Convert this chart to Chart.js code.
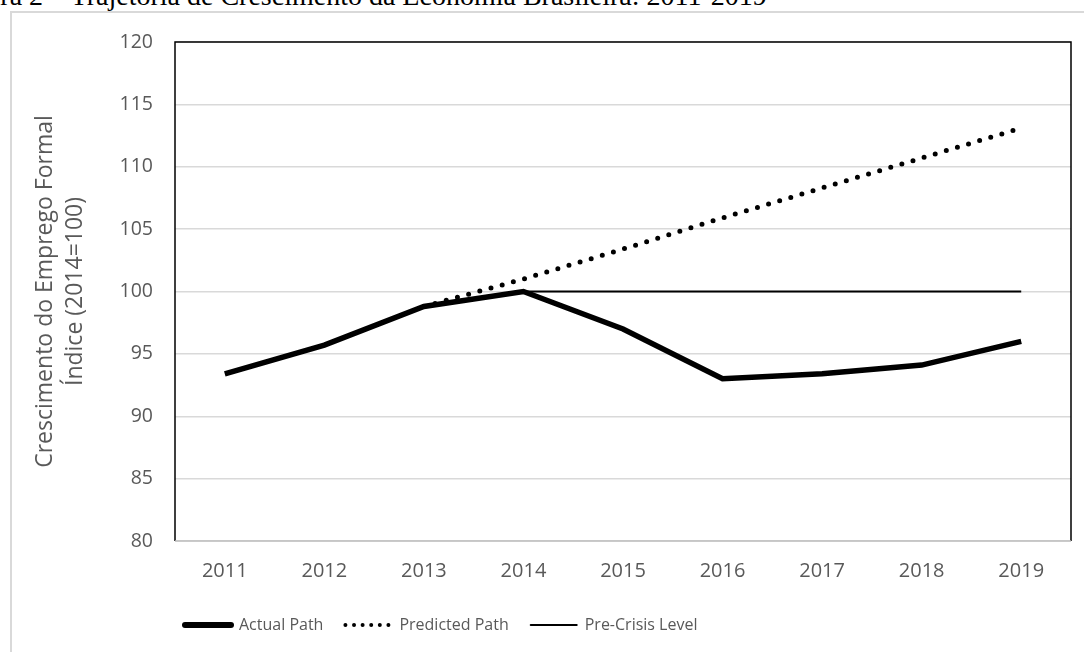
<!DOCTYPE html>
<html>
<head>
<meta charset="utf-8">
<script src="https://cdn.jsdelivr.net/npm/chart.js@4.4.1/dist/chart.umd.min.js"></script>
<style>
  html, body { margin: 0; padding: 0; background: #fff; overflow: hidden; }
  #wrap { position: relative; width: 1084px; height: 652px; }
  #caption {
    position: absolute; top: -18px; left: 0; white-space: nowrap;
    font-family: "Liberation Serif", "DejaVu Serif", serif; font-size: 28px; line-height: 28px; color: #000;
  }
  #frame {
    position: absolute; left: 10px; top: 11px; width: 1100px; height: 700px;
    border-left: 2px solid #d9d9d9; border-top: 2px solid #d9d9d9;
  }
  canvas { position: absolute; left: 0; top: 0; }
</style>
</head>
<body>
<div id="wrap">
  <div id="caption"><span id="cut">Figu</span>ra 2 – Trajetória de Crescimento da Economia Brasileira: 2011-2019</div>
  <div id="frame"></div>
  <canvas id="growthChart" width="1084" height="652"></canvas>
</div>
<script>
// years on the x axis
const years = ['2011', '2012', '2013', '2014', '2015', '2016', '2017', '2018', '2019'];

// formal employment index, 2014 = 100
const actualPath = [93.4, 95.7, 98.8, 100, 97.0, 93.0, 93.4, 94.1, 96.0];
const predictedPath = [null, null, 98.8, 101.0, 103.4, 105.9, 108.3, 110.7, 113.1];
const preCrisisLevel = [null, null, null, 100, 100, 100, 100, 100, 100];

const seriesNames = ['Actual Path', 'Predicted Path', 'Pre-Crisis Level'];
const yTitle = ['Crescimento do Emprego Formal', 'Índice (2014=100)'];

// shift the caption so the first letters sit off the left edge
const cut = document.getElementById('cut');
document.getElementById('caption').style.left = (-cut.offsetWidth) + 'px';

const legendStyle = [
  { width: 6, dash: [] },
  { width: 4, dash: [0, 8.6] },
  { width: 2, dash: [] },
];

const PLOT_BOTTOM = 541;
const LEGEND_Y = 625;
const LEGEND_X = 185;
const LEGEND_PAD = 22;
const LEGEND_FONT = 16;

// black box around the plot area (x axis line stays grey)
const plotFrame = {
  id: 'plotFrame',
  beforeDatasetsDraw(chart) {
    const { ctx, chartArea: a } = chart;
    ctx.save();
    ctx.strokeStyle = '#000';
    ctx.lineWidth = 1.5;
    ctx.beginPath();
    ctx.moveTo(a.left, a.bottom);
    ctx.lineTo(a.left, a.top);
    ctx.lineTo(a.right, a.top);
    ctx.lineTo(a.right, a.bottom);
    ctx.stroke();
    ctx.strokeStyle = '#bfbfbf';
    ctx.beginPath();
    ctx.moveTo(a.left, a.bottom);
    ctx.lineTo(a.right, a.bottom);
    ctx.stroke();
    ctx.restore();
  },
};

// legend sits left of centre, under the plot
const legendPlace = {
  id: 'legendPlace',
  afterLayout(chart) {
    const lg = chart.legend;
    const w = lg.right - lg.left;
    lg.left = LEGEND_X - LEGEND_PAD;
    lg.right = lg.left + w;
    const h = lg.bottom - lg.top;
    lg.top = LEGEND_Y - LEGEND_PAD - LEGEND_FONT / 2;
    lg.bottom = lg.top + h;
  },
};

const font = '"Open Sans", "Noto Sans", sans-serif';

new Chart(document.getElementById('growthChart'), {
  type: 'line',
  data: {
    labels: years,
    datasets: [
      {
        label: seriesNames[0],
        data: actualPath,
        borderColor: '#000',
        backgroundColor: '#000',
        borderWidth: 5.5,
        pointRadius: 0,
      },
      {
        label: seriesNames[1],
        data: predictedPath,
        borderColor: '#000',
        backgroundColor: '#000',
        borderWidth: 5,
        borderDash: [0, 11.6],
        borderCapStyle: 'round',
        pointRadius: 0,
      },
      {
        label: seriesNames[2],
        data: preCrisisLevel,
        borderColor: '#000',
        backgroundColor: '#000',
        borderWidth: 2.2,
        pointRadius: 0,
      },
    ],
  },
  options: {
    responsive: false,
    animation: false,
    layout: { padding: { top: 42, right: 13, left: 0, bottom: 0 } },
    plugins: {
      tooltip: { enabled: false },
      legend: {
        position: 'bottom',
        align: 'start',
        labels: {
          usePointStyle: true,
          pointStyleWidth: 46,
          padding: LEGEND_PAD,
          color: '#595959',
          font: { family: font, size: LEGEND_FONT },
          generateLabels: (chart) => chart.data.datasets.map((ds, i) => ({
            text: ds.label,
            datasetIndex: i,
            fillStyle: '#000',
            strokeStyle: '#000',
            fontColor: '#595959',
            lineWidth: legendStyle[i].width,
            lineDash: legendStyle[i].dash,
            lineCap: 'round',
            pointStyle: 'line',
            hidden: false,
          })),
        },
      },
    },
    scales: {
      x: {
        offset: true,
        afterFit: (s) => { s.height = 652 - PLOT_BOTTOM - s.chart.legend.height; },
        grid: { display: false, drawTicks: false },
        border: { display: false },
        ticks: { color: '#595959', padding: 18, font: { family: font, size: 20 } },
      },
      y: {
        min: 80,
        max: 120,
        afterFit: (s) => { s.width = 175; },
        grid: { color: '#d9d9d9', lineWidth: 1.5, drawTicks: false },
        border: { display: false },
        ticks: { stepSize: 5, color: '#595959', padding: 22, font: { family: font, size: 19.5 } },
        title: {
          display: true,
          text: yTitle,
          color: '#595959',
          padding: { top: 30, bottom: 0 },
          font: { family: font, size: 23, lineHeight: 30 / 23 },
        },
      },
    },
  },
  plugins: [plotFrame, legendPlace],
});
</script>
</body>
</html>
